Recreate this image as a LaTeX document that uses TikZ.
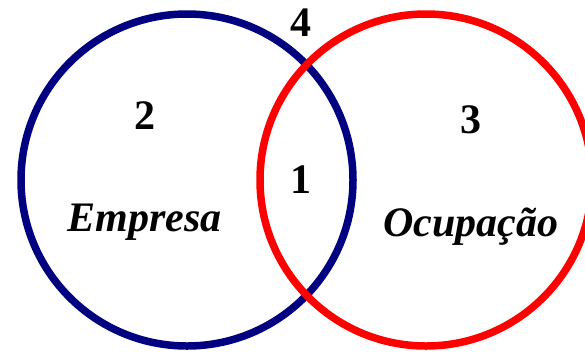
\documentclass[tikz,border=0pt]{standalone}
\usepackage{fontspec}
\setmainfont{Liberation Serif}
\definecolor{navyc}{RGB}{0,0,128}
\definecolor{redc}{RGB}{255,0,0}
\begin{document}
\begin{tikzpicture}[x=1pt,y=-1pt,
  ring/.style={line width=7.5pt},
  num/.style={anchor=base,inner sep=0pt,font=\fontsize{42pt}{48pt}\selectfont\bfseries},
  lbl/.style={anchor=base,inner sep=0pt,font=\fontsize{42pt}{48pt}\selectfont\bfseries\itshape}]
\useasboundingbox (0,0) rectangle (585,354);
\clip (0,0) rectangle (585,354);
\draw[ring,navyc] (187,180) circle[radius=166];
\draw[ring,redc] (426,180) circle[radius=166];
\node[num] (n4) at (301,36.5) {4};
\node[num] (n2) at (145,129) {2};
\node[num] (n3) at (471,133) {3};
\node[num] (n1) at (301,193) {1};
\node[lbl] (emp) at (144.5,231) {Empresa};
\node[lbl] (ocu) at (471,236) {Ocupação};
\end{tikzpicture}
\end{document}
